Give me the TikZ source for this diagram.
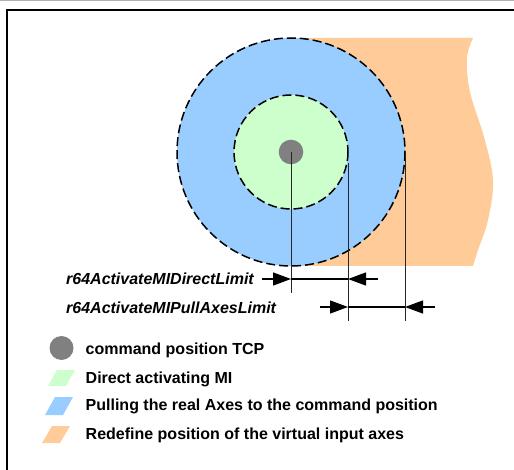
\documentclass[tikz,border=0pt]{standalone}
\usepackage{fontspec}
\setmainfont{Liberation Sans}
\usetikzlibrary{arrows.meta}
\definecolor{zblue}{HTML}{99CCFF}
\definecolor{zgreen}{HTML}{CCFFCC}
\definecolor{zorange}{HTML}{FFCC99}
\definecolor{zgray}{HTML}{808080}
\tikzset{
  zone/.style={draw=black, line width=1.5pt, dash pattern=on 9pt off 4pt},
  refline/.style={draw=black!85, line width=1pt},
  dimline/.style={draw=black, line width=1.3pt},
  dimarrow/.style={draw=black, line width=1.3pt, -{Triangle[length=18pt,width=13pt]}},
  legtext/.style={anchor=base west, inner sep=0pt, font=\fontsize{16}{19}\selectfont\bfseries},
  dimtext/.style={anchor=base west, inner sep=0pt, font=\fontsize{16}{19}\selectfont\bfseries\itshape},
}
\begin{document}
\begin{tikzpicture}[x=1pt,y=-1pt]
\useasboundingbox (0,0) rectangle (514,470);
% frame
\draw[black!30, line width=1pt] (0,0.5) -- (514,0.5);
\draw[black, line width=1.3pt] (7,470) -- (7,10) -- (514,10);
% orange region
\fill[zorange] (291,38) -- (473,38)
  -- plot[smooth, tension=0.6] coordinates {(473,38) (467,58) (470,92) (484,137) (493,180) (488,220) (478,250) (473,266)}
  -- (291,266) -- cycle;
% circles
\coordinate (c) at (291,152);
\fill[zblue] (c) circle[radius=114];
\path[zone] (c) circle[radius=114];
\fill[zgreen] (c) circle[radius=57];
\path[zone] (c) circle[radius=57];
\fill[zgray] (c) circle[radius=12.3];
% reference lines
\coordinate (v1t) at (291,152); \coordinate (v1b) at (291,293);
\coordinate (v2t) at (348,163); \coordinate (v2b) at (348,321);
\coordinate (v3t) at (405,152); \coordinate (v3b) at (405,321);
\path[refline] (v1t) -- (v1b);
\path[refline] (v2t) -- (v2b);
\path[refline] (v3t) -- (v3b);
% dimension 1
\coordinate (d1s) at (262,279); \coordinate (d1a) at (291,279);
\coordinate (d1b) at (348,279); \coordinate (d1e) at (378,279);
\path[dimline] (d1a) -- (d1b);
\path[dimarrow] (d1s) -- (d1a);
\path[dimarrow] (d1e) -- (d1b);
% dimension 2
\coordinate (d2s) at (320,307); \coordinate (d2a) at (348,307);
\coordinate (d2b) at (405,307); \coordinate (d2e) at (435,307);
\path[dimline] (d2a) -- (d2b);
\path[dimarrow] (d2s) -- (d2a);
\path[dimarrow] (d2e) -- (d2b);
\node[dimtext] (t1) at (66,285) {r64ActivateMIDirectLimit};
\node[dimtext] (t2) at (66,313) {r64ActivateMIPullAxesLimit};
% legend
\fill[zgray] (61.5,348) circle[radius=12];
\fill[zgreen] (48,386) -- (57,370) -- (75,370) -- (66,386) -- cycle;
\fill[zblue] (45,415) -- (55,397) -- (73,397) -- (63,415) -- cycle;
\fill[zorange] (42,443) -- (52,426) -- (70,426) -- (60,443) -- cycle;
\node[legtext] (l1) at (85.5,354) {command position TCP};
\node[legtext] (l2) at (85.5,383) {Direct activating MI};
\node[legtext] (l3) at (85.5,410) {Pulling the real Axes to the command position};
\node[legtext] (l4) at (85.5,439) {Redefine position of the virtual input axes};
\end{tikzpicture}
\end{document}
